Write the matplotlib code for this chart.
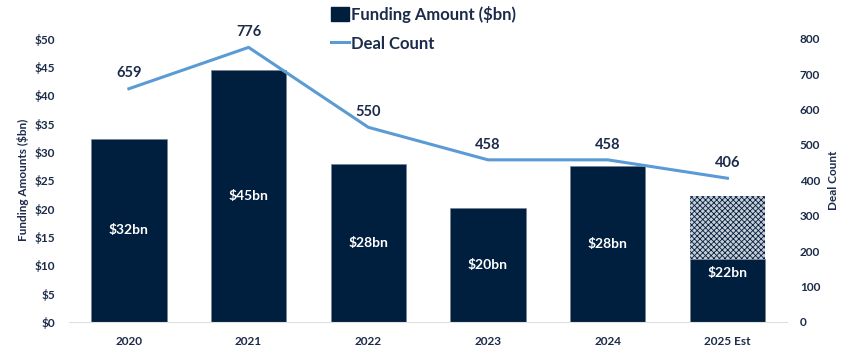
import matplotlib
matplotlib.use("Agg")
import matplotlib.pyplot as plt
from matplotlib.patches import Patch
from matplotlib.lines import Line2D

plt.rcParams['font.family'] = ['Lato', 'DejaVu Sans']
plt.rcParams['hatch.linewidth'] = 0.6

years = ["2020", "2021", "2022", "2023", "2024", "2025 Est"]
funding = [32.3, 44.5, 27.9, 20.1, 27.6, 22.3]
funding_actual = [32.3, 44.5, 27.9, 20.1, 27.6, 11.1]
funding_labels = ["$32bn", "$45bn", "$28bn", "$20bn", "$28bn", "$22bn"]
deal_count = [659, 776, 550, 458, 458, 406]
left_ticks = [0, 5, 10, 15, 20, 25, 30, 35, 40, 45, 50]
right_ticks = [0, 100, 200, 300, 400, 500, 600, 700, 800]

NAVY = "#001F3F"
TEXT = "#1C2B4A"
LINE = "#5B9BD5"

fig = plt.figure(figsize=(8.47, 3.6), dpi=100)
ax = fig.add_axes([0.0815, 0.106, 0.848, 0.786])
x = list(range(len(years)))

# estimated (hatched) portion
est = [f - a for f, a in zip(funding, funding_actual)]
ax.bar(x, est, bottom=funding_actual, width=0.63, color="#C8CDD6",
       edgecolor=NAVY, hatch="xxxxxx", linewidth=0)
ax.bar(x, funding_actual, width=0.63, color=NAVY, edgecolor="#6F7F96", linewidth=0.4)

label_y = [v / 2 for v in funding]
label_y[-1] = 8.7
for xi, ly, lab in zip(x, label_y, funding_labels):
    ax.text(xi, ly, lab, color="white", ha="center", va="center",
            fontsize=10, fontweight="bold")

ax.set_xlim(-0.5, len(years) - 0.5)
ax.set_ylim(0, 50)
ax.set_yticks(left_ticks)
ax.set_yticklabels([f"${t}" for t in left_ticks])
ax.set_xticks(x)
ax.set_xticklabels(years)
for s in ["top", "right", "left"]:
    ax.spines[s].set_visible(False)
ax.spines["bottom"].set_color("#E0E0E0")
ax.tick_params(axis="both", length=0, labelsize=8.5, colors=TEXT)
ax.tick_params(axis="x", pad=10)
ax.tick_params(axis="y", pad=10)
for t in ax.get_xticklabels() + ax.get_yticklabels():
    t.set_fontweight("bold")
ax.set_ylabel("Funding Amounts ($bn)", fontsize=8.5, fontweight="bold", color=TEXT, labelpad=4)

ax2 = ax.twinx()
ax2.plot(x, deal_count, color=LINE, linewidth=2.2)
ax2.set_ylim(0, 800)
ax2.set_yticks(right_ticks)
ax2.set_yticklabels([str(t) for t in right_ticks])
for s in ["top", "right", "left", "bottom"]:
    ax2.spines[s].set_visible(False)
ax2.tick_params(axis="y", length=0, labelsize=8.5, colors=TEXT, pad=9)
for t in ax2.get_yticklabels():
    t.set_fontweight("bold")
ax2.set_ylabel("Deal Count", fontsize=8.5, fontweight="bold", color=TEXT, labelpad=6)

for xi, v in zip(x, deal_count):
    ax2.annotate(str(v), (xi, v), xytext=(0, 6), textcoords="offset points",
                 ha="center", va="bottom", fontsize=10.5, fontweight="bold", color=TEXT)

handles = [Patch(facecolor=NAVY, edgecolor=NAVY, label="Funding Amount ($bn)"),
           Line2D([0], [0], color=LINE, linewidth=2.2, label="Deal Count")]
leg = fig.legend(handles=handles, loc="upper center", bbox_to_anchor=(0.5, 1.025),
                 frameon=False, ncol=1, handlelength=1.1, handleheight=0.9,
                 handletextpad=0.1, labelspacing=0.75, prop={"size": 12, "weight": "bold"})
for t in leg.get_texts():
    t.set_color(TEXT)

fig.savefig("out.png", dpi=100)
